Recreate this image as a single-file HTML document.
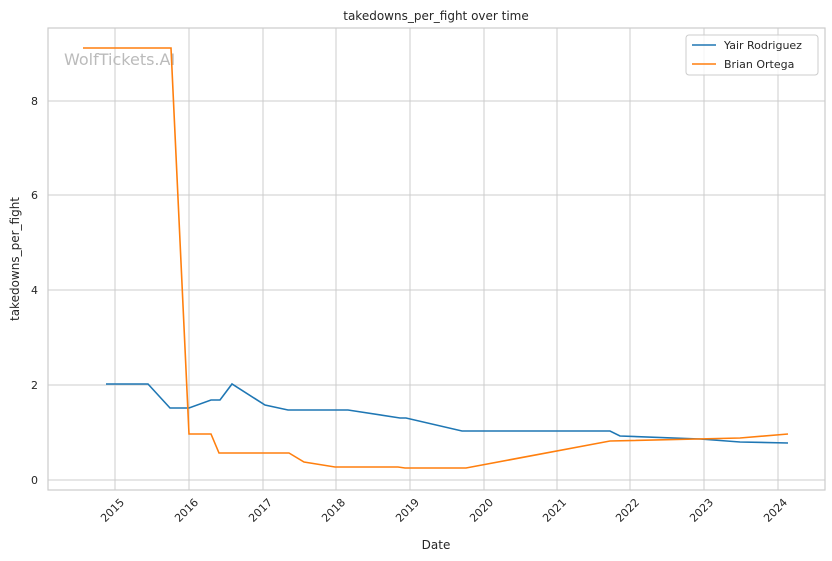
<!DOCTYPE html>
<html><head><style>body{margin:0;background:#fff}svg{display:block;font-family:"DejaVu Sans","Liberation Sans",sans-serif}</style></head><body>
<svg width="832" height="561" xmlns="http://www.w3.org/2000/svg">
<rect width="832" height="561" fill="#fff"/>
<g stroke="#cccccc" stroke-width="1">
<line x1="48" x2="825" y1="480" y2="480"/><line x1="48" x2="825" y1="385" y2="385"/><line x1="48" x2="825" y1="290" y2="290"/><line x1="48" x2="825" y1="195" y2="195"/><line x1="48" x2="825" y1="101" y2="101"/>
<line x1="115" x2="115" y1="28" y2="490"/><line x1="189" x2="189" y1="28" y2="490"/><line x1="263" x2="263" y1="28" y2="490"/><line x1="336" x2="336" y1="28" y2="490"/><line x1="410" x2="410" y1="28" y2="490"/><line x1="484" x2="484" y1="28" y2="490"/><line x1="557" x2="557" y1="28" y2="490"/><line x1="630" x2="630" y1="28" y2="490"/><line x1="704" x2="704" y1="28" y2="490"/><line x1="778" x2="778" y1="28" y2="490"/>
</g>
<rect x="48" y="28" width="777" height="462" fill="none" stroke="#cccccc" stroke-width="1.2"/>
<text x="64" y="65" font-size="16" fill="#bbbbbb">WolfTickets.AI</text>
<polyline fill="none" stroke="#1f77b4" stroke-width="1.6" points="106,384 148,384 170,408 189,408 211,400 220,400 232,384 265,405 288,410 348,410 400,418 406,418 462,431 610,431 620,436 700,439 740,442 788,443"/>
<polyline fill="none" stroke="#ff7f0e" stroke-width="1.6" points="83,48 171,48 189,434 211,434 219,453 289,453 304,462 335,467 398,467 405,468 466,468 610,441 740,438 788,434"/>
<g font-size="11" fill="#262626" text-anchor="end">
<text x="38" y="484">0</text><text x="38" y="389">2</text><text x="38" y="294">4</text><text x="38" y="199">6</text><text x="38" y="105">8</text>
</g>
<g font-size="11" fill="#262626" text-anchor="end">
<text transform="translate(125,503) rotate(-45)">2015</text><text transform="translate(199,503) rotate(-45)">2016</text><text transform="translate(273,503) rotate(-45)">2017</text><text transform="translate(346,503) rotate(-45)">2018</text><text transform="translate(420,503) rotate(-45)">2019</text><text transform="translate(494,503) rotate(-45)">2020</text><text transform="translate(567,503) rotate(-45)">2021</text><text transform="translate(640,503) rotate(-45)">2022</text><text transform="translate(714,503) rotate(-45)">2023</text><text transform="translate(788,503) rotate(-45)">2024</text>
</g>
<text x="436" y="549" font-size="12" fill="#262626" text-anchor="middle">Date</text>
<text transform="translate(19,259) rotate(-90)" font-size="12" fill="#262626" text-anchor="middle">takedowns_per_fight</text>
<text x="436" y="20" font-size="12" fill="#262626" text-anchor="middle">takedowns_per_fight over time</text>
<rect x="686" y="35" width="132" height="40" rx="3" fill="#fff" fill-opacity="0.8" stroke="#cccccc"/>
<line x1="692" x2="716" y1="45" y2="45" stroke="#1f77b4" stroke-width="1.6"/>
<line x1="692" x2="716" y1="64" y2="64" stroke="#ff7f0e" stroke-width="1.6"/>
<text x="724" y="49" font-size="11" fill="#262626">Yair Rodriguez</text>
<text x="724" y="68" font-size="11" fill="#262626">Brian Ortega</text>
</svg>
</body></html>
